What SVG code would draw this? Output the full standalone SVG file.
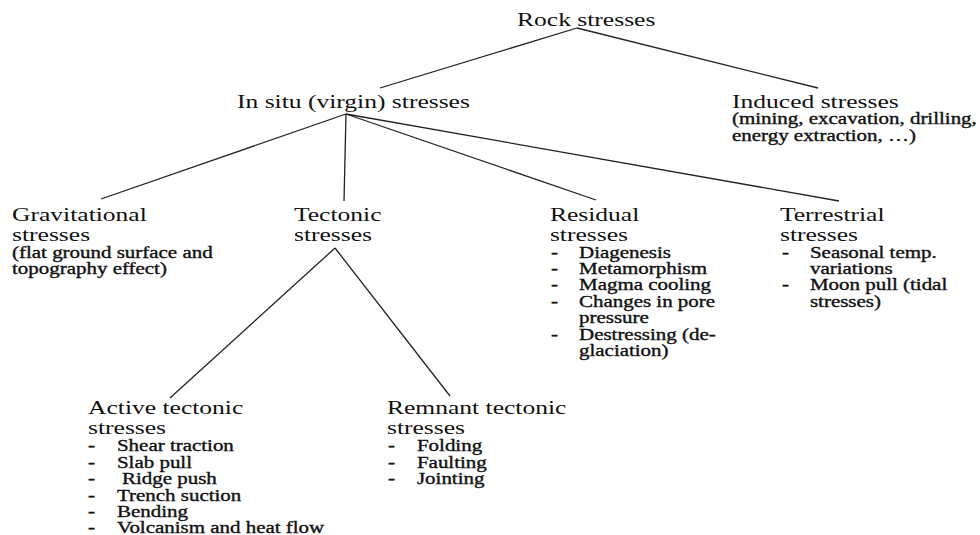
<svg xmlns="http://www.w3.org/2000/svg" width="980" height="535" viewBox="0 0 980 535">
<style>
.h{font-size:19.5px}
.s{font-size:16px;stroke:#111;stroke-width:0.35}
line{stroke:#222;stroke-width:1.3}
</style>
<rect width="980" height="535" fill="#fff"/>
<g id="connectors">
<line x1="577" y1="28" x2="380" y2="88"/>
<line x1="577" y1="28" x2="818" y2="88"/>
<line x1="346" y1="114" x2="101" y2="199"/>
<line x1="346" y1="114" x2="344" y2="201"/>
<line x1="346" y1="114" x2="596" y2="200"/>
<line x1="346" y1="114" x2="839" y2="201"/>
<line x1="335" y1="248" x2="170" y2="398"/>
<line x1="335" y1="248" x2="450" y2="396"/>
</g>
<g transform="scale(1.31,1)" font-family="'Liberation Serif', 'Times New Roman', serif" fill="#111">
<g id="rock"><text class="h" x="394.7" y="26">Rock stresses</text></g>
<g id="insitu"><text class="h" x="180.9" y="108">In situ (virgin) stresses</text></g>
<g id="induced"><text class="h" x="558.8" y="108">Induced stresses</text>
<text class="s" x="558.8" y="124">(mining, excavation, drilling,</text>
<text class="s" x="558.8" y="141">energy extraction, …)</text></g>
<g id="gravitational"><text class="h" x="9.2" y="221">Gravitational</text>
<text class="h" x="9.2" y="241">stresses</text>
<text class="s" x="9.2" y="258">(flat ground surface and</text>
<text class="s" x="9.2" y="274">topography effect)</text></g>
<g id="tectonic"><text class="h" x="224.4" y="221">Tectonic</text>
<text class="h" x="224.4" y="241">stresses</text></g>
<g id="residual"><text class="h" x="419.8" y="221">Residual</text>
<text class="h" x="419.8" y="241">stresses</text>
<text class="s" x="420.6" y="258">-</text><text class="s" x="442" y="258">Diagenesis</text>
<text class="s" x="420.6" y="274">-</text><text class="s" x="442" y="274">Metamorphism</text>
<text class="s" x="420.6" y="290">-</text><text class="s" x="442" y="290">Magma cooling</text>
<text class="s" x="420.6" y="307">-</text><text class="s" x="442" y="307">Changes in pore</text>
<text class="s" x="442" y="323">pressure</text>
<text class="s" x="420.6" y="340">-</text><text class="s" x="442" y="340">Destressing (de-</text>
<text class="s" x="442" y="356">glaciation)</text></g>
<g id="terrestrial"><text class="h" x="595.4" y="221">Terrestrial</text>
<text class="h" x="595.4" y="241">stresses</text>
<text class="s" x="597" y="258">-</text><text class="s" x="618.3" y="258">Seasonal temp.</text>
<text class="s" x="618.3" y="274">variations</text>
<text class="s" x="597" y="290">-</text><text class="s" x="618.3" y="290">Moon pull (tidal</text>
<text class="s" x="618.3" y="307">stresses)</text></g>
<g id="active"><text class="h" x="67.2" y="414">Active tectonic</text>
<text class="h" x="67.2" y="434">stresses</text>
<text class="s" x="67.2" y="451">-</text><text class="s" x="89.3" y="451">Shear traction</text>
<text class="s" x="67.2" y="468">-</text><text class="s" x="89.3" y="468">Slab pull</text>
<text class="s" x="67.2" y="484">-</text><text class="s" x="93.1" y="484">Ridge push</text>
<text class="s" x="67.2" y="501">-</text><text class="s" x="89.3" y="501">Trench suction</text>
<text class="s" x="67.2" y="517">-</text><text class="s" x="89.3" y="517">Bending</text>
<text class="s" x="67.2" y="533">-</text><text class="s" x="89.3" y="533">Volcanism and heat flow</text></g>
<g id="remnant"><text class="h" x="295.4" y="414">Remnant tectonic</text>
<text class="h" x="295.4" y="434">stresses</text>
<text class="s" x="296.2" y="451">-</text><text class="s" x="318.3" y="451">Folding</text>
<text class="s" x="296.2" y="468">-</text><text class="s" x="318.3" y="468">Faulting</text>
<text class="s" x="296.2" y="484">-</text><text class="s" x="318.3" y="484">Jointing</text></g>
</g>
</svg>
